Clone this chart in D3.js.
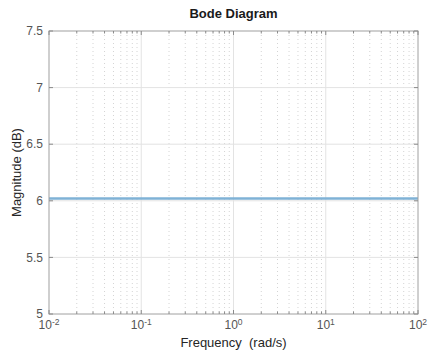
<!DOCTYPE html>
<html>
<head>
<meta charset="utf-8">
<script src="https://cdn.jsdelivr.net/npm/d3@7"></script>
<style>
  body { margin: 0; background: #fff; }
  svg { font-family: "Liberation Sans", Arial, sans-serif; }
</style>
</head>
<body>
<div id="chart"></div>
<script>
// data
const freqs = [0.01, 0.0316, 0.1, 0.316, 1, 3.16, 10, 31.6, 100];
const magDb = [6.0206, 6.0206, 6.0206, 6.0206, 6.0206, 6.0206, 6.0206, 6.0206, 6.0206];
const xTicks = [0.01, 0.1, 1, 10, 100];
const xExps = ['-2', '-1', '0', '1', '2'];
const yTicks = [5, 5.5, 6, 6.5, 7, 7.5];

const width = 428, height = 358;
const margin = { top: 31, right: 10, bottom: 44, left: 49 };
const innerWidth = width - margin.left - margin.right;
const innerHeight = height - margin.top - margin.bottom;

const svg = d3.select('#chart').append('svg')
  .attr('width', width)
  .attr('height', height);

const x = d3.scaleLog().domain([0.01, 100]).range([0, innerWidth]);
const y = d3.scaleLinear().domain([5, 7.5]).range([innerHeight, 0]);

const g = svg.append('g')
  .attr('transform', `translate(${margin.left},${margin.top})`);

// minor grid (dotted)
const minor = [];
for (let e = -2; e < 2; e++) {
  for (let k = 2; k <= 9; k++) minor.push(k * Math.pow(10, e));
}
g.selectAll('.minor').data(minor).enter().append('line')
  .attr('x1', d => x(d)).attr('x2', d => x(d))
  .attr('y1', 0).attr('y2', innerHeight)
  .attr('stroke', '#d4d4d4')
  .attr('stroke-width', 1)
  .attr('stroke-dasharray', '1,3');

// major grid
g.selectAll('.vgrid').data(xTicks.slice(1, -1)).enter().append('line')
  .attr('x1', d => x(d)).attr('x2', d => x(d))
  .attr('y1', 0).attr('y2', innerHeight)
  .attr('stroke', '#e3e3e3');
g.selectAll('.hgrid').data(yTicks.slice(1, -1)).enter().append('line')
  .attr('x1', 0).attr('x2', innerWidth)
  .attr('y1', d => y(d)).attr('y2', d => y(d))
  .attr('stroke', '#e3e3e3');

// data line
const line = d3.line()
  .x((d, i) => x(freqs[i]))
  .y(d => y(d));
g.append('path')
  .datum(magDb)
  .attr('d', line)
  .attr('fill', 'none')
  .attr('stroke', '#7fb2d6')
  .attr('stroke-width', 2.5);

// box
g.append('rect')
  .attr('width', innerWidth).attr('height', innerHeight)
  .attr('fill', 'none')
  .attr('stroke', '#a0a0a0')
  .attr('stroke-width', 1);

// ticks (inward)
const tickLen = 4, minorLen = 2.5;
[0, innerHeight].forEach(y0 => {
  const dir = y0 === 0 ? 1 : -1;
  g.selectAll(null).data(xTicks).enter().append('line')
    .attr('x1', d => x(d)).attr('x2', d => x(d))
    .attr('y1', y0).attr('y2', y0 + dir * tickLen)
    .attr('stroke', '#8a8a8a');
  g.selectAll(null).data(minor).enter().append('line')
    .attr('x1', d => x(d)).attr('x2', d => x(d))
    .attr('y1', y0).attr('y2', y0 + dir * minorLen)
    .attr('stroke', '#8a8a8a');
});
[0, innerWidth].forEach(x0 => {
  const dir = x0 === 0 ? 1 : -1;
  g.selectAll(null).data(yTicks).enter().append('line')
    .attr('x1', x0).attr('x2', x0 + dir * tickLen)
    .attr('y1', d => y(d)).attr('y2', d => y(d))
    .attr('stroke', '#8a8a8a');
});

// y tick labels
g.selectAll('.ylab').data(yTicks).enter().append('text')
  .attr('x', -6)
  .attr('y', d => y(d))
  .attr('dy', '0.35em')
  .attr('text-anchor', 'end')
  .attr('font-size', 12)
  .attr('fill', '#555')
  .text(d => d);

// x tick labels 10^n
const xl = g.selectAll('.xlab').data(xTicks).enter().append('text')
  .attr('x', d => x(d))
  .attr('y', innerHeight + 15)
  .attr('text-anchor', 'middle')
  .attr('font-size', 12)
  .attr('fill', '#555');
xl.append('tspan').text('10');
xl.append('tspan')
  .attr('dy', -4.5)
  .attr('font-size', 8.5)
  .text((d, i) => xExps[i]);

// title and labels
svg.append('text')
  .attr('x', margin.left + innerWidth / 2)
  .attr('y', 18)
  .attr('text-anchor', 'middle')
  .attr('font-size', 13)
  .attr('font-weight', 'bold')
  .attr('fill', '#1a1a1a')
  .text('Bode Diagram');

svg.append('text')
  .attr('x', margin.left + innerWidth / 2)
  .attr('y', 347)
  .attr('text-anchor', 'middle')
  .attr('font-size', 13)
  .attr('fill', '#262626')
  .attr('xml:space', 'preserve')
  .text('Frequency  (rad/s)');

svg.append('text')
  .attr('transform', `translate(21,${margin.top + innerHeight / 2}) rotate(-90)`)
  .attr('text-anchor', 'middle')
  .attr('font-size', 13)
  .attr('fill', '#262626')
  .text('Magnitude (dB)');
</script>
</body>
</html>
